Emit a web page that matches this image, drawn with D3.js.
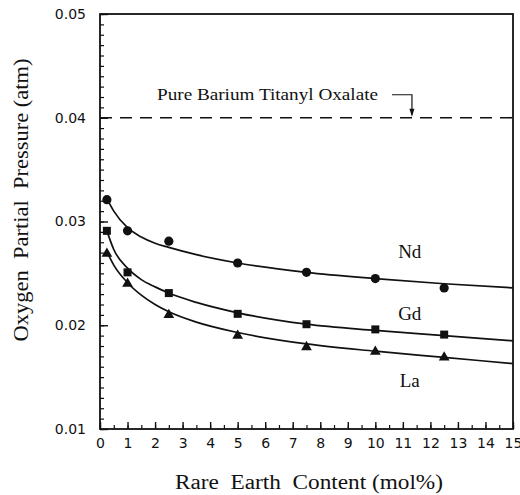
<!DOCTYPE html>
<html>
<head>
<meta charset="utf-8">
<script src="https://cdn.jsdelivr.net/npm/d3@7"></script>
<style>
  body { margin: 0; background: #fff; }
  svg { display: block; }
  .tick-label { font-family: "DejaVu Sans", sans-serif; font-size: 14px; fill: #111; }
  .serif { font-family: "Liberation Serif", "Times New Roman", serif; fill: #111; }
</style>
</head>
<body>
<div id="chart"></div>
<script>
// measured points (mol% rare earth vs O2 partial pressure, atm)
const contentX = [0.25, 1, 2.5, 5, 7.5, 10, 12.5];
const ndPressure = [0.0321, 0.0291, 0.0281, 0.0260, 0.0251, 0.0245, 0.0236];
const gdPressure = [0.0291, 0.0251, 0.0231, 0.0211, 0.0201, 0.0196, 0.0191];
const laPressure = [0.0269, 0.0240, 0.0210, 0.0190, 0.0179, 0.01745, 0.0169];

// fitted curves
const fitX  = [0.25, 0.5, 1, 1.5, 2, 2.5, 3.5, 5, 7.5, 10, 12.5, 15];
const ndFit = [0.0322, 0.0310, 0.0294, 0.0285, 0.0279, 0.0275, 0.0268, 0.0260, 0.0251, 0.0245, 0.0240, 0.0236];
const gdFit = [0.0291, 0.0273, 0.0255, 0.0244, 0.0237, 0.0231, 0.0222, 0.0212, 0.0201, 0.0195, 0.0190, 0.0185];
const laFit = [0.0271, 0.0258, 0.0241, 0.0229, 0.0220, 0.0213, 0.0203, 0.0193, 0.0182, 0.0175, 0.0169, 0.0163];

const pureBTO = 0.04;

const xTicks = d3.range(0, 16);
const yTicks = [0.01, 0.02, 0.03, 0.04, 0.05];

const width = 520, height = 495;
const padL = 100, padR = 513, padT = 14, padB = 429;

const x = d3.scaleLinear().domain([0, 15]).range([padL, padR]);
const y = d3.scaleLinear().domain([0.01, 0.05]).range([padB, padT]);

const svg = d3.select('#chart').append('svg')
    .attr('width', width)
    .attr('height', height);

// minor ticks first
svg.append('g')
    .attr('transform', `translate(${padL},0)`)
    .call(d3.axisLeft(y).tickValues(d3.range(10, 51).map(i => i / 1000)).tickFormat('').tickSizeInner(-4).tickSizeOuter(0))
    .call(g => g.select('.domain').remove())
    .call(g => g.selectAll('line').attr('stroke', '#111').attr('stroke-width', 1.2));

svg.append('g')
    .attr('transform', `translate(0,${padB})`)
    .call(d3.axisBottom(x).tickValues(d3.range(0, 31).map(i => i / 2)).tickFormat('').tickSizeInner(-4).tickSizeOuter(0))
    .call(g => g.select('.domain').remove())
    .call(g => g.selectAll('line').attr('stroke', '#111').attr('stroke-width', 1.2));

// major ticks + labels
svg.append('g')
    .attr('transform', `translate(${padL},0)`)
    .call(d3.axisLeft(y).tickValues(yTicks).tickFormat(d3.format('.2f')).tickSizeInner(-8).tickSizeOuter(0).tickPadding(14))
    .call(g => g.select('.domain').remove())
    .call(g => g.selectAll('line').attr('stroke', '#111').attr('stroke-width', 1.4))
    .call(g => g.selectAll('text').attr('class', 'tick-label').attr('font-family', null).attr('font-size', null));

svg.append('g')
    .attr('transform', `translate(0,${padB})`)
    .call(d3.axisBottom(x).tickValues(xTicks).tickFormat(d3.format('d')).tickSizeInner(-7).tickSizeOuter(0).tickPadding(9))
    .call(g => g.select('.domain').remove())
    .call(g => g.selectAll('line').attr('stroke', '#111').attr('stroke-width', 1.4))
    .call(g => g.selectAll('text').attr('class', 'tick-label').attr('font-family', null).attr('font-size', null));

// frame
svg.append('rect')
    .attr('x', padL).attr('y', padT)
    .attr('width', padR - padL).attr('height', padB - padT)
    .attr('fill', 'none').attr('stroke', '#111').attr('stroke-width', 1.8);

// pure barium titanyl oxalate reference
svg.append('line')
    .attr('x1', x(0)).attr('x2', x(15))
    .attr('y1', y(pureBTO)).attr('y2', y(pureBTO))
    .attr('stroke', '#111').attr('stroke-width', 1.6)
    .attr('stroke-dasharray', '12,8');

svg.append('text')
    .attr('class', 'serif')
    .attr('x', 157).attr('y', y(pureBTO) - 18)
    .attr('font-size', 17)
    .attr('textLength', 221)
    .attr('lengthAdjust', 'spacingAndGlyphs')
    .text('Pure Barium Titanyl Oxalate');

const arrowX = x(11.33);
svg.append('path')
    .attr('d', `M${arrowX - 20},${y(pureBTO) - 23} H${arrowX} V${y(pureBTO) - 3}`)
    .attr('fill', 'none').attr('stroke', '#111').attr('stroke-width', 1.2);
svg.append('path')
    .attr('d', `M${arrowX - 2.5},${y(pureBTO) - 9} L${arrowX + 2.5},${y(pureBTO) - 9} L${arrowX},${y(pureBTO) - 1} Z`)
    .attr('fill', '#111');

// curves
const line = d3.line()
    .x(d => x(d[0]))
    .y(d => y(d[1]))
    .curve(d3.curveMonotoneX);

[ndFit, gdFit, laFit].forEach(fit => {
    svg.append('path')
        .datum(fitX.map((v, i) => [v, fit[i]]))
        .attr('d', line)
        .attr('fill', 'none')
        .attr('stroke', '#111')
        .attr('stroke-width', 1.7);
});

// markers
svg.append('g').selectAll('circle')
    .data(contentX.map((v, i) => [v, ndPressure[i]]))
    .enter().append('circle')
    .attr('cx', d => x(d[0])).attr('cy', d => y(d[1]))
    .attr('r', 4.6).attr('fill', '#111');

svg.append('g').selectAll('rect')
    .data(contentX.map((v, i) => [v, gdPressure[i]]))
    .enter().append('rect')
    .attr('x', d => x(d[0]) - 4).attr('y', d => y(d[1]) - 4)
    .attr('width', 8).attr('height', 8).attr('fill', '#111');

const tri = d3.symbol().type(d3.symbolTriangle).size(50);
svg.append('g').selectAll('path')
    .data(contentX.map((v, i) => [v, laPressure[i]]))
    .enter().append('path')
    .attr('transform', d => `translate(${x(d[0])},${y(d[1])})`)
    .attr('d', tri).attr('fill', '#111');

// series labels
const seriesLabels = ['Nd', 'Gd', 'La'];
const labelY = [0.0265, 0.0205, 0.01405];
seriesLabels.forEach((s, i) => {
    svg.append('text')
        .attr('class', 'serif')
        .attr('x', x(11.25)).attr('y', y(labelY[i]))
        .attr('text-anchor', 'middle')
        .attr('font-size', 19)
        .text(s);
});

// axis titles
svg.append('text')
    .attr('class', 'serif')
    .attr('transform', 'translate(28,200) rotate(-90)')
    .attr('text-anchor', 'middle')
    .attr('font-size', 20)
    .attr('textLength', 283)
    .attr('lengthAdjust', 'spacingAndGlyphs')
    .style('white-space', 'pre')
    .text('Oxygen  Partial  Pressure (atm)');

svg.append('text')
    .attr('class', 'serif')
    .attr('x', 309).attr('y', 489)
    .attr('text-anchor', 'middle')
    .attr('font-size', 20)
    .attr('textLength', 268)
    .attr('lengthAdjust', 'spacingAndGlyphs')
    .style('white-space', 'pre')
    .text('Rare  Earth  Content (mol%)');
</script>
</body>
</html>
